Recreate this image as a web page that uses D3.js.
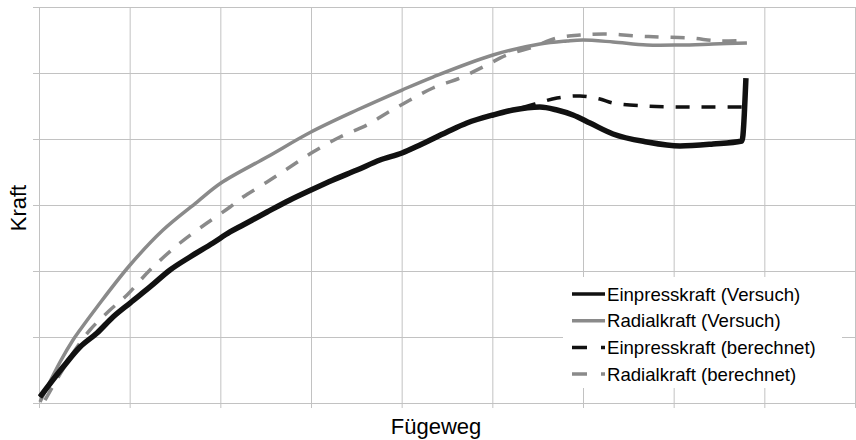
<!DOCTYPE html>
<html><head><meta charset="utf-8">
<script src="https://cdn.jsdelivr.net/npm/d3@7/dist/d3.min.js"></script>
<style>body{margin:0;background:#fff}svg{display:block}text{font-family:"Liberation Sans",Arial,sans-serif}</style>
</head><body><svg id="c" width="856" height="440"></svg>
<script>
// Axis grid (no labelled ticks in the original)
const xTicks = [0,1,2,3,4,5,6,7,8,9];
const yTicks = [0,1,2,3,4,5,6];
const xLabel = "Fügeweg";
const yLabel = "Kraft";
const seriesNames = ["Einpresskraft (Versuch)","Radialkraft (Versuch)","Einpresskraft (berechnet)","Radialkraft (berechnet)"];

// Radialkraft (Versuch)
const radVersX = [0.011,0.232,0.375,0.452,0.640,1.004,1.368,1.743,2.007,2.515,3.000,3.507,4.004,4.345,5.007,5.525,5.823,6.000,6.331,6.705,7.070,7.434,7.808];
const radVersY = [0.015,0.621,0.955,1.106,1.455,2.091,2.621,3.045,3.333,3.727,4.106,4.439,4.742,4.939,5.273,5.439,5.485,5.500,5.470,5.424,5.424,5.439,5.455];
// Radialkraft (berechnet)
const radBerX = [0.066,0.375,0.562,0.783,0.971,1.224,1.555,1.853,2.107,2.250,2.515,2.768,3.022,3.320,3.618,3.838,4.092,4.345,4.643,4.897,5.161,5.448,5.713,5.967,6.265,6.595,6.849,7.180,7.511,7.808];
const radBerY = [0.045,0.758,1.106,1.409,1.636,2.015,2.424,2.727,2.970,3.121,3.348,3.576,3.803,4.030,4.212,4.394,4.591,4.773,4.924,5.091,5.273,5.394,5.530,5.576,5.591,5.561,5.545,5.530,5.485,5.500];
// Einpresskraft (Versuch)
const einVersX = [0.011,0.265,0.452,0.640,0.816,1.004,1.224,1.445,1.665,1.919,2.107,2.250,2.515,2.768,3.000,3.243,3.507,3.761,4.004,4.202,4.500,4.720,5.007,5.228,5.525,5.713,5.890,6.077,6.331,6.705,7.070,7.434,7.753,7.797];
const einVersY = [0.091,0.545,0.848,1.061,1.303,1.515,1.758,2.015,2.212,2.424,2.591,2.697,2.894,3.076,3.227,3.379,3.530,3.682,3.788,3.909,4.106,4.242,4.364,4.439,4.485,4.439,4.364,4.242,4.076,3.955,3.894,3.924,3.970,4.924];
// Einpresskraft (berechnet)
const einBerX = [0.011,0.265,0.452,0.640,0.816,1.004,1.224,1.445,1.665,1.919,2.107,2.250,2.515,2.768,3.000,3.243,3.507,3.761,4.004,4.202,4.500,4.720,5.007,5.228,5.470,5.713,5.967,6.187,6.331,6.705,7.070,7.434,7.875];
const einBerY = [0.091,0.545,0.848,1.061,1.303,1.515,1.758,2.015,2.212,2.424,2.591,2.697,2.894,3.076,3.227,3.379,3.530,3.682,3.788,3.909,4.106,4.242,4.364,4.439,4.530,4.621,4.652,4.606,4.545,4.500,4.485,4.485,4.485];

const svg = d3.select("#c");
const L = 39, R = 855, T = 7, B = 403;
const x = d3.scaleLinear().domain([0,9]).range([L,R]);
const y = d3.scaleLinear().domain([0,6]).range([B,T]);
const gridCol = "#c2c2c2";

svg.append("g").attr("transform",`translate(0,${B})`)
  .call(d3.axisBottom(x).tickValues(xTicks).tickSizeOuter(0).tickFormat(""))
  .call(g=>g.select(".domain").remove())
  .call(g=>g.selectAll("line").attr("stroke",gridCol).attr("y2",-(B-T)).attr("y1",5));
svg.append("g").attr("transform",`translate(${L},0)`)
  .call(d3.axisLeft(y).tickValues(yTicks).tickSizeOuter(0).tickFormat(""))
  .call(g=>g.select(".domain").remove())
  .call(g=>g.selectAll("line").attr("stroke",gridCol).attr("x1",-6).attr("x2",R-L));

const mk = (xs,ys)=>xs.map((v,i)=>[v,ys[i]]);
const line = d3.line().x(d=>x(d[0])).y(d=>y(d[1])).curve(d3.curveCatmullRom.alpha(0.5));
const lineLin = d3.line().x(d=>x(d[0])).y(d=>y(d[1])).curve(d3.curveMonotoneX);

const series = [
  {data:mk(radVersX,radVersY), color:"#8a8a8a", w:3.5, dash:null, gen:line},
  {data:mk(radBerX,radBerY), color:"#8a8a8a", w:3.5, dash:"14,12", gen:line},
  {data:mk(einBerX,einBerY), color:"#111", w:3.5, dash:"14,12", gen:line},
  {data:mk(einVersX,einVersY), color:"#111", w:5.5, dash:null, gen:lineLin},
];
series.forEach(s=>{
  svg.append("path").attr("d",s.gen(s.data)).attr("fill","none")
    .attr("stroke",s.color).attr("stroke-width",s.w)
    .attr("stroke-dasharray",s.dash).attr("stroke-linejoin","round").attr("stroke-linecap","butt");
});

// legend
const lg = svg.append("g");
lg.append("rect").attr("x",563).attr("y",277).attr("width",279).attr("height",111).attr("fill","#fff");
const legItems = [
  {name:seriesNames[0], color:"#111", dash:null},
  {name:seriesNames[1], color:"#8a8a8a", dash:null},
  {name:seriesNames[2], color:"#111", dash:"15,14"},
  {name:seriesNames[3], color:"#8a8a8a", dash:"15,14"},
];
legItems.forEach((d,i)=>{
  const cy = 294 + i*26.7;
  lg.append("line").attr("x1",572).attr("x2",605).attr("y1",cy).attr("y2",cy)
    .attr("stroke",d.color).attr("stroke-width",3.5).attr("stroke-dasharray",d.dash);
  lg.append("text").attr("x",607).attr("y",cy).attr("dy","0.36em")
    .attr("font-size",18.6).attr("fill","#000").text(d.name);
});

// axis titles
svg.append("text").attr("x",436).attr("y",434).attr("text-anchor","middle")
  .attr("font-size",22).text(xLabel);
svg.append("text").attr("transform","translate(26,208) rotate(-90)").attr("text-anchor","middle")
  .attr("font-size",22).text(yLabel);
</script></body></html>
